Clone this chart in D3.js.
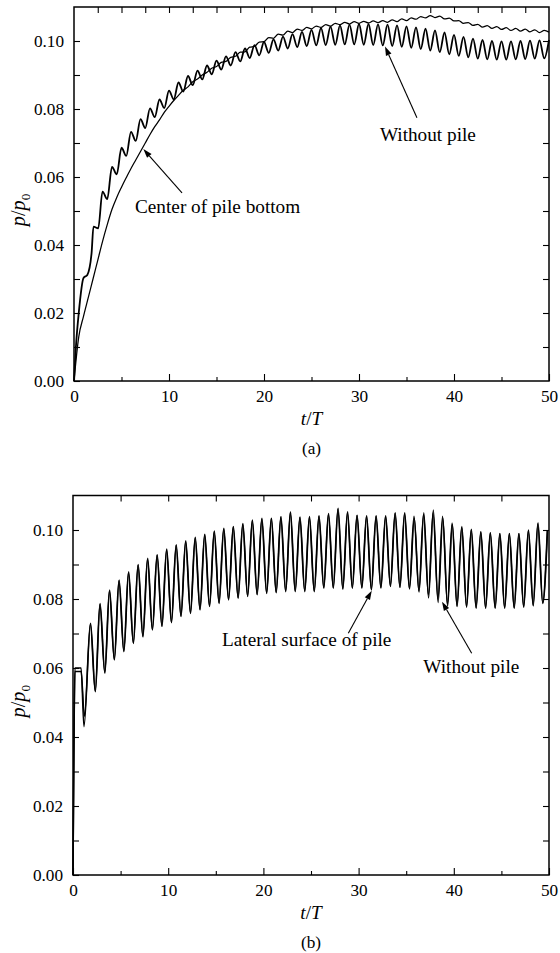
<!DOCTYPE html>
<html>
<head>
<meta charset="utf-8">
<script src="https://cdn.jsdelivr.net/npm/d3@7"></script>
<style>
  body { margin: 0; background: #fff; }
  svg { display: block; }
  text { fill: #000; }
</style>
</head>
<body>
<svg id="fig" width="560" height="953"></svg>
<script>
// ---------- shared axis ticks ----------
const xMajorTicks = [0, 10, 20, 30, 40, 50];
const xMinorTicks = [5, 15, 25, 35, 45];
const topTicksA = [2.5, 5, 7.5, 10, 12.5, 15, 17.5, 20, 22.5, 25, 27.5, 30, 32.5, 35, 37.5, 40, 42.5, 45, 47.5];
const topTicksB = [5, 10, 15, 20, 25, 30, 35, 40, 45];
const yMajorTicks = [0, 0.02, 0.04, 0.06, 0.08, 0.10];
const yMinorTicks = [0.01, 0.03, 0.05, 0.07, 0.09];
const yRightTicks = [0.01, 0.02, 0.03, 0.04, 0.05, 0.06, 0.07, 0.08, 0.09, 0.10];

// ---------- panel (a): without pile (oscillating) ----------
const aWithoutEarlyT = [0, 0.2, 0.5, 1.0, 1.4, 1.85, 2.05, 2.55];
const aWithoutEarlyV = [0, 0.010, 0.020, 0.0303, 0.0312, 0.0376, 0.0454, 0.0449];
const aWithoutPeakStart = 3;      // crests at t = 3, 4, ..., 50
const aWithoutPeaks = [
  0.0557, 0.0630, 0.0686, 0.0733, 0.0770, 0.0802, 0.0828, 0.0854, 0.0878, 0.0897,
  0.0913, 0.0928, 0.0942, 0.0955, 0.0967, 0.0978, 0.0988, 0.0997, 0.1005, 0.1013,
  0.1020, 0.1027, 0.1033, 0.1038, 0.1042, 0.1046, 0.1048, 0.1050, 0.1050, 0.1049,
  0.1048, 0.1046, 0.1043, 0.1040, 0.1036, 0.1031, 0.1025, 0.1018, 0.1012, 0.1007,
  0.1003, 0.1000, 0.0999, 0.0999, 0.1000, 0.1001, 0.1002, 0.1003
];
const aWithoutTroughStart = 3.5;  // dips at t = 3.5, 4.5, ..., 49.5
const aWithoutTroughs = [
  0.0535, 0.0608, 0.0662, 0.0706, 0.0744, 0.0776, 0.0803, 0.0828, 0.0851, 0.0870,
  0.0887, 0.0902, 0.0916, 0.0928, 0.0940, 0.0950, 0.0958, 0.0965, 0.0972, 0.0978,
  0.0982, 0.0985, 0.0987, 0.0988, 0.0989, 0.0990, 0.0990, 0.0989, 0.0988, 0.0987,
  0.0985, 0.0983, 0.0980, 0.0976, 0.0972, 0.0967, 0.0961, 0.0956, 0.0952, 0.0948,
  0.0946, 0.0945, 0.0945, 0.0946, 0.0947, 0.0948, 0.0949
];

// ---------- panel (a): center of pile bottom, sampled every 0.5 T ----------
const aCenterStep = 0.5;
const aCenter = [
  0, 0.0130, 0.0190, 0.0245, 0.0300, 0.0355, 0.0410, 0.0460, 0.0505, 0.0540,
  0.0570, 0.0598, 0.0625, 0.0650, 0.0675, 0.0700, 0.0725, 0.0748, 0.0768, 0.0790,
  0.0808, 0.0825, 0.0840, 0.0855, 0.0865, 0.0880, 0.0888, 0.0900, 0.0908, 0.0920,
  0.0925, 0.0937, 0.0940, 0.0952, 0.0955, 0.0967, 0.0968, 0.0982, 0.0984, 0.0997,
  0.0998, 0.1010, 0.1008, 0.1020, 0.1017, 0.1029, 0.1025, 0.1035, 0.1031, 0.1040,
  0.1036, 0.1044, 0.1040, 0.1048, 0.1044, 0.1052, 0.1048, 0.1055, 0.1050, 0.1057,
  0.1052, 0.1058, 0.1053, 0.1059, 0.1054, 0.1060, 0.1055, 0.1062, 0.1057, 0.1065,
  0.1060, 0.1068, 0.1064, 0.1072, 0.1068, 0.1075, 0.1069, 0.1073, 0.1065, 0.1067,
  0.1059, 0.1060, 0.1052, 0.1054, 0.1046, 0.1049, 0.1041, 0.1045, 0.1037, 0.1042,
  0.1034, 0.1039, 0.1031, 0.1037, 0.1029, 0.1035, 0.1027, 0.1033, 0.1025, 0.1031,
  0.1026
];

// ---------- panel (b): without pile ----------
const bWithoutEarlyT = [0, 0.05, 0.12, 0.2, 0.85, 1.15];
const bWithoutEarlyV = [0, 0.020, 0.045, 0.060, 0.060, 0.043];
const bWithoutPeakStart = 1.85;   // crests at t = 1.85, 2.85, ..., 49.85
const bWithoutPeaks = [
  0.0730, 0.0787, 0.0826, 0.0855, 0.0879, 0.0900, 0.0918, 0.0928, 0.0945, 0.0957,
  0.0969, 0.0979, 0.0988, 0.0997, 0.1005, 0.1010, 0.1019, 0.1029, 0.1034, 0.1034,
  0.1039, 0.1053, 0.1038, 0.1039, 0.1041, 0.1048, 0.1063, 0.1053, 0.1043, 0.1041,
  0.1041, 0.1041, 0.1050, 0.1050, 0.1034, 0.1050, 0.1058, 0.1034, 0.1017, 0.1010,
  0.1002, 0.0995, 0.0992, 0.0990, 0.0990, 0.0990, 0.1000, 0.1021, 0.1000
];
const bWithoutTroughStart = 2.35; // dips at t = 2.35, 3.35, ..., 49.35
const bWithoutTroughs = [
  0.0531, 0.0585, 0.0623, 0.0647, 0.0671, 0.0690, 0.0710, 0.0720, 0.0731, 0.0749,
  0.0758, 0.0768, 0.0778, 0.0787, 0.0797, 0.0802, 0.0807, 0.0812, 0.0816, 0.0818,
  0.0821, 0.0821, 0.0821, 0.0821, 0.0831, 0.0831, 0.0828, 0.0831, 0.0831, 0.0826,
  0.0831, 0.0836, 0.0833, 0.0829, 0.0820, 0.0803, 0.0790, 0.0779, 0.0778, 0.0776,
  0.0773, 0.0773, 0.0773, 0.0773, 0.0773, 0.0776, 0.0780, 0.0787
];

// ---------- panel (b): lateral surface of pile ----------
const bLateralEarlyT = [0, 0.05, 0.12, 0.2, 0.85, 1.2];
const bLateralEarlyV = [0, 0.018, 0.043, 0.059, 0.059, 0.046];
const bLateralPeakStart = 1.82;
const bLateralPeaks = [
  0.0728, 0.0785, 0.0824, 0.0853, 0.0877, 0.0898, 0.0916, 0.0927, 0.0943, 0.0955,
  0.0967, 0.0977, 0.0986, 0.0995, 0.1003, 0.1009, 0.1017, 0.1027, 0.1032, 0.1033,
  0.1037, 0.1050, 0.1036, 0.1037, 0.1040, 0.1046, 0.1060, 0.1051, 0.1042, 0.1040,
  0.1040, 0.1040, 0.1048, 0.1048, 0.1040, 0.1045, 0.1050, 0.1040, 0.1020, 0.1008,
  0.1000, 0.0994, 0.0991, 0.0989, 0.0989, 0.0989, 0.0998, 0.1018, 0.0998
];
const bLateralTroughStart = 2.33;
const bLateralTroughs = [
  0.0533, 0.0587, 0.0625, 0.0649, 0.0673, 0.0692, 0.0712, 0.0722, 0.0733, 0.0751,
  0.0760, 0.0770, 0.0780, 0.0789, 0.0799, 0.0804, 0.0809, 0.0814, 0.0818, 0.0820,
  0.0823, 0.0823, 0.0823, 0.0823, 0.0833, 0.0833, 0.0830, 0.0833, 0.0833, 0.0828,
  0.0833, 0.0838, 0.0835, 0.0831, 0.0824, 0.0812, 0.0800, 0.0785, 0.0780, 0.0778,
  0.0775, 0.0775, 0.0775, 0.0775, 0.0775, 0.0778, 0.0782, 0.0789
];

// ---------- font: first installed Times-like serif, sized to a fixed text width ----------
const measureCtx = document.createElement("canvas").getContext("2d");
function textWidth(str, px, family) {
  measureCtx.font = `${px}px ${family}`;
  return measureCtx.measureText(str).width;
}
function pickSerif(candidates) {
  const probe = "Without pile 0.10 Wmlix";
  for (const f of candidates) {
    for (const base of ["monospace", "sans-serif"]) {
      if (Math.abs(textWidth(probe, 24, `"${f}", ${base}`) - textWidth(probe, 24, base)) > 0.5) return `"${f}"`;
    }
  }
  return "serif";
}
const FONT = pickSerif(["Liberation Serif", "Times New Roman", "Tinos", "Nimbus Roman", "FreeSerif", "Noto Serif", "DejaVu Serif"]);
// keep annotation width near 96 px for "Without pile" whatever serif was found
const fit = Math.max(0.8, Math.min(1.15, 96 / textWidth("Without pile", 19, FONT)));
const fs = px => +(px * fit).toFixed(2);

// ---------- helpers ----------
function waveSeries(earlyT, earlyV, peakStart, peaks, troughStart, troughs) {
  const pts = earlyT.map((t, i) => [t, earlyV[i]]);
  peaks.forEach((v, i) => pts.push([peakStart + i, v]));
  troughs.forEach((v, i) => pts.push([troughStart + i, v]));
  return pts.sort((a, b) => a[0] - b[0]);
}
function stepSeries(step, values) {
  return values.map((v, i) => [i * step, v]);
}

const svg = d3.select("#fig").style("font-family", FONT);

function drawAxes(g, x, y, topTicks) {
  const [x0, x1] = x.range();
  const [yb, yt] = y.range();
  const style = sel => {
    sel.select(".domain").remove();
    sel.attr("font-family", FONT).attr("font-size", fs(17));
    sel.selectAll("line").attr("stroke", "#000").attr("stroke-width", 1.1);
  };
  g.append("g").attr("transform", `translate(0,${yb})`)
    .call(d3.axisBottom(x).tickValues(xMajorTicks).tickSize(-7).tickPadding(9).tickFormat(d3.format("d")))
    .call(style);
  g.append("g").attr("transform", `translate(0,${yb})`)
    .call(d3.axisBottom(x).tickValues(xMinorTicks).tickSize(-4).tickFormat(""))
    .call(style);
  g.append("g").attr("transform", `translate(0,${yt})`)
    .call(d3.axisTop(x).tickValues(topTicks).tickSize(-6).tickFormat(""))
    .call(style);
  g.append("g").attr("transform", `translate(${x0},0)`)
    .call(d3.axisLeft(y).tickValues(yMajorTicks).tickSize(-6).tickPadding(10).tickFormat(d3.format(".2f")))
    .call(style);
  g.append("g").attr("transform", `translate(${x0},0)`)
    .call(d3.axisLeft(y).tickValues(yMinorTicks).tickSize(-6).tickFormat(""))
    .call(style);
  g.append("g").attr("transform", `translate(${x1},0)`)
    .call(d3.axisRight(y).tickValues(yRightTicks).tickSize(-6).tickFormat(""))
    .call(style);
  g.append("rect")
    .attr("x", x0).attr("y", yt).attr("width", x1 - x0).attr("height", yb - yt)
    .attr("fill", "none").attr("stroke", "#000").attr("stroke-width", 1.5);
}

function drawLabels(g, x, y, tag) {
  const [x0, x1] = x.range();
  const [yb, yt] = y.range();
  const cx = (x0 + x1) / 2;
  const xl = g.append("text").attr("x", cx).attr("y", yb + 44)
    .attr("text-anchor", "middle").attr("font-size", fs(19));
  xl.append("tspan").attr("font-style", "italic").text("t");
  xl.append("tspan").text("/");
  xl.append("tspan").attr("font-style", "italic").text("T");
  g.append("text").attr("x", cx).attr("y", yb + 73)
    .attr("text-anchor", "middle").attr("font-size", fs(17)).text(tag);
  const yl = g.append("text")
    .attr("transform", `translate(25,${(yb + yt) / 2 + 16}) rotate(-90)`)
    .attr("text-anchor", "middle").attr("font-size", fs(20));
  yl.append("tspan").attr("font-style", "italic").text("p");
  yl.append("tspan").text("/");
  yl.append("tspan").attr("font-style", "italic").text("p");
  yl.append("tspan").attr("font-size", fs(13)).attr("dy", 5).text("0");
}

function annotate(g, x, y, note) {
  const tip = [x(note.tip[0]), y(note.tip[1])];
  const tail = [x(note.tail[0]), y(note.tail[1])];
  const ang = Math.atan2(tip[1] - tail[1], tip[0] - tail[0]);
  const L = 9, W = 3;
  const bx = tip[0] - L * Math.cos(ang), by = tip[1] - L * Math.sin(ang);
  g.append("line")
    .attr("x1", tail[0]).attr("y1", tail[1]).attr("x2", bx).attr("y2", by)
    .attr("stroke", "#000").attr("stroke-width", 1.1);
  g.append("path")
    .attr("d", d3.line()([
      tip,
      [bx - W * Math.sin(ang), by + W * Math.cos(ang)],
      [bx + W * Math.sin(ang), by - W * Math.cos(ang)]
    ]) + "Z")
    .attr("fill", "#000");
  g.append("text").attr("x", x(note.at[0])).attr("y", y(note.at[1]))
    .attr("font-size", fs(19)).text(note.label);
}

function drawCurve(g, x, y, pts, width) {
  g.append("path")
    .datum(pts)
    .attr("fill", "none").attr("stroke", "#000").attr("stroke-width", width)
    .attr("stroke-linejoin", "round")
    .attr("d", d3.line().x(d => x(d[0])).y(d => y(d[1])).curve(d3.curveMonotoneX));
}

// ---------- panel (a) ----------
const xA = d3.scaleLinear([0, 50], [74, 549]);
const yA = d3.scaleLinear([0, 0.11], [381, 7]);
const gA = svg.append("g");
drawCurve(gA, xA, yA, stepSeries(aCenterStep, aCenter), 1.25);
drawCurve(gA, xA, yA, waveSeries(aWithoutEarlyT, aWithoutEarlyV, aWithoutPeakStart, aWithoutPeaks,
  aWithoutTroughStart, aWithoutTroughs), 1.8);
drawAxes(gA, xA, yA, topTicksA);
drawLabels(gA, xA, yA, "(a)");
annotate(gA, xA, yA, { label: "Without pile", tip: [32.74, 0.0984], tail: [36.1, 0.0774], at: [32.2, 0.0706] });
annotate(gA, xA, yA, { label: "Center of pile bottom", tip: [7.3, 0.0682], tail: [11.37, 0.0553], at: [6.42, 0.0494] });

// ---------- panel (b) ----------
const xB = d3.scaleLinear([0, 50], [73, 549]);
const yB = d3.scaleLinear([0, 0.11], [875, 495.5]);
const gB = svg.append("g");
drawCurve(gB, xB, yB, waveSeries(bLateralEarlyT, bLateralEarlyV, bLateralPeakStart, bLateralPeaks,
  bLateralTroughStart, bLateralTroughs), 1.5);
drawCurve(gB, xB, yB, waveSeries(bWithoutEarlyT, bWithoutEarlyV, bWithoutPeakStart, bWithoutPeaks,
  bWithoutTroughStart, bWithoutTroughs), 1.5);
drawAxes(gB, xB, yB, topTicksB);
drawLabels(gB, xB, yB, "(b)");
annotate(gB, xB, yB, { label: "Lateral surface of pile", tip: [31.38, 0.0824], tail: [28.92, 0.0701], at: [15.65, 0.0664] });
annotate(gB, xB, yB, { label: "Without pile", tip: [38.76, 0.0792], tail: [41.88, 0.0643], at: [36.8, 0.0586] });
</script>
</body>
</html>
